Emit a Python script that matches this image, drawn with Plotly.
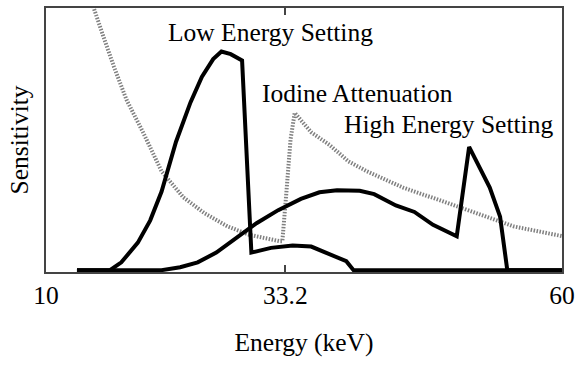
import plotly.graph_objects as go

# Low energy setting sensitivity
low_E = [13.0, 16.2, 17.3, 18.9, 20.1, 21.2, 22.6, 24.0, 25.1, 26.2, 27.0, 27.9, 29.0,
         29.9, 31.8, 33.9, 35.7, 37.5, 39.1, 39.8, 60.0]
low_S = [0.0, 0.0, 0.03, 0.105, 0.19, 0.30, 0.49, 0.64, 0.737, 0.805, 0.834, 0.824, 0.80,
         0.067, 0.085, 0.094, 0.09, 0.061, 0.034, 0.0, 0.0]

# High energy setting sensitivity
high_E = [13.0, 21.2, 23.0, 24.7, 26.5, 28.3, 30.4, 32.5, 34.7, 36.5, 38.2, 40.4, 41.8,
          43.9, 45.7, 47.5, 49.8, 51.0, 53.0, 54.0, 54.7, 60.0]
high_S = [0.0, 0.0, 0.011, 0.03, 0.067, 0.117, 0.179, 0.229, 0.272, 0.297, 0.305, 0.303, 0.29,
          0.247, 0.222, 0.173, 0.129, 0.47, 0.315, 0.204, 0.0, 0.0]

# Iodine attenuation (with K-edge at 33.2 keV)
iod_E = [14.2, 14.6, 15.5, 16.6, 17.8, 19.4, 21.2, 23.3, 25.4, 27.6, 29.7, 32.7, 32.9,
         33.3, 33.7, 34.1, 35.7, 37.5, 39.3, 41.1, 44.6, 48.2, 51.7, 55.3, 60.0]
iod_S = [1.05, 1.0, 0.898, 0.774, 0.65, 0.526, 0.377, 0.278, 0.216, 0.167, 0.135, 0.11, 0.11,
         0.30, 0.50, 0.60, 0.526, 0.477, 0.415, 0.377, 0.315, 0.266, 0.216, 0.167, 0.13]

x_ticks = [10, 33.2, 60]
x_tick_text = ["10", "33.2", "60"]

labels = ["Low Energy Setting", "Iodine Attenuation", "High Energy Setting"]
label_pos = [(31.8, 0.905), (40.2, 0.672), (49.0, 0.556)]

FONT = "Liberation Serif, Times New Roman, serif"
FS = 25.5

fig = go.Figure()
fig.add_trace(go.Scatter(x=iod_E, y=iod_S, mode="lines",
                         line=dict(color="#808080", width=4, dash="1.5px,1.5px")))
fig.add_trace(go.Scatter(x=low_E, y=low_S, mode="lines",
                         line=dict(color="black", width=4)))
fig.add_trace(go.Scatter(x=high_E, y=high_S, mode="lines",
                         line=dict(color="black", width=4)))

for txt, (xx, yy) in zip(labels, label_pos):
    fig.add_annotation(x=xx, y=yy, text=txt, showarrow=False,
                       font=dict(family=FONT, size=FS, color="black"),
                       xanchor="center", yanchor="middle")

fig.update_layout(
    width=581, height=366,
    margin=dict(l=46, r=13, t=6, b=94),
    paper_bgcolor="white", plot_bgcolor="white",
    showlegend=False,
    font=dict(family=FONT, size=FS, color="black"),
)
fig.update_xaxes(range=[10, 60], tickvals=x_ticks, ticktext=x_tick_text,
                 showgrid=False, zeroline=False, showline=True, linecolor="#444",
                 linewidth=1.5, mirror="ticks", ticks="inside", ticklen=7,
                 tickcolor="#444", tickwidth=1.5,
                 title=dict(text="Energy (keV)", standoff=24,
                            font=dict(family=FONT, size=FS)),
                 tickfont=dict(family=FONT, size=FS))
fig.update_yaxes(range=[-0.007, 1.0], showticklabels=False, ticks="",
                 showgrid=False, zeroline=False, showline=True, linecolor="#444",
                 linewidth=1.5, mirror=True,
                 title=dict(text="Sensitivity", standoff=8,
                            font=dict(family=FONT, size=FS)))

fig.write_html("out.html")
